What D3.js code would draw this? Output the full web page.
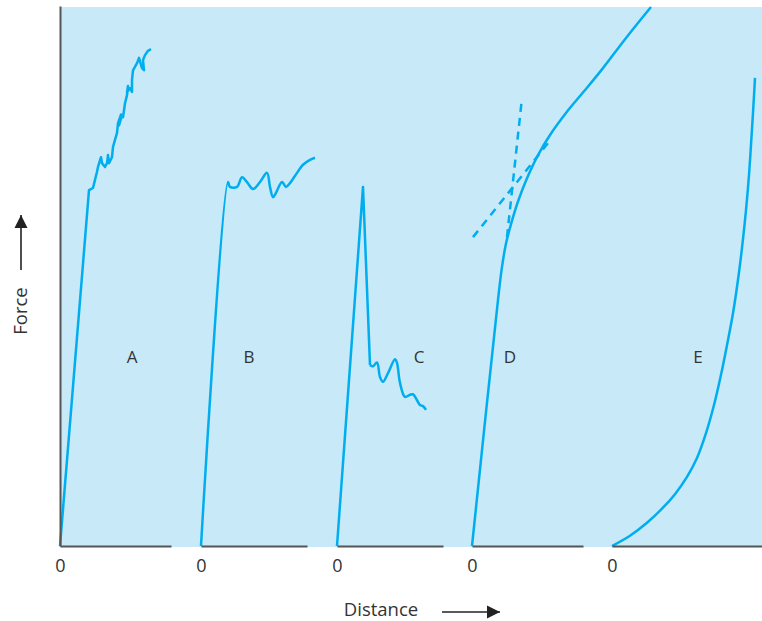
<!DOCTYPE html>
<html>
<head>
<meta charset="utf-8">
<script src="https://cdn.jsdelivr.net/npm/d3@7"></script>
<style>
  html, body { margin: 0; padding: 0; background: #ffffff; }
  svg { display: block; }
</style>
</head>
<body>
<svg id="chart" width="762" height="621"></svg>
<script>
// ---------- data (distance units, force units) ----------
const panelNames = ["A", "B", "C", "D", "E"];
const panelZero  = [0, 28.2, 55.4, 82.4, 110.4];     // distance origin of each panel
const panelEnd   = [22.2, 49.4, 76.6, 104.6, 140.4]; // end of each axis segment
const labelDist  = [14.4, 9.6, 16.4, 7.6, 17.2];     // label position within panel
const labelForce = 35;
const tickLabels = ["0", "0", "0", "0", "0"];

// A: rises linearly then serrated climb
const curveA = [
  [0, 0], [5.8, 65.9], [6.6, 66.3], [7.0, 67.8], [7.4, 69.3], [7.6, 70.2],
  [8.2, 72.0], [8.4, 70.9], [9.0, 70.2], [9.4, 70.9], [9.6, 72.4], [9.8, 70.9],
  [10.4, 72.0], [10.6, 73.9], [11.4, 76.5], [11.6, 78.3], [12.2, 79.9], [11.8, 77.9],
  [12.4, 79.8], [12.6, 79.4], [13.0, 82.0], [13.4, 83.5], [13.6, 85.2], [13.4, 84.0],
  [14.0, 84.8], [14.4, 84.1], [14.4, 86.3], [14.6, 88.1], [15.4, 89.4], [15.8, 90.4],
  [16.4, 88.5], [16.8, 88.1], [16.6, 90.0], [17.0, 90.9], [17.6, 91.7], [18.2, 92.0]
];
// B: yield plateau with waves
const curveB = [
  [0, 0], [5.4, 67.4], [5.8, 66.5], [7.2, 66.5], [8.2, 68.3], [9.2, 67.4],
  [10.4, 66.1], [11.8, 67.4], [13.2, 69.1], [13.8, 66.5], [14.4, 64.6], [15.0, 65.4],
  [16.2, 67.4], [17.0, 66.5], [17.8, 67.2], [19.2, 69.1], [20.4, 70.6], [21.8, 71.5],
  [22.8, 71.9]
];
// C: sharp peak then drop
const curveCSpike = [[0, 0], [5.2, 66.5], [6.6, 33.5]];
const curveCTail = [
  [6.6, 33.5], [7.2, 33.3], [8.0, 34.0], [8.6, 31.3], [9.2, 30.4], [10.2, 32.0],
  [11.6, 34.6], [12.0, 33.9], [12.6, 30.2], [13.6, 27.6], [14.6, 28.0], [15.2, 28.1],
  [16.0, 27.0], [16.6, 26.1], [17.2, 25.9], [17.8, 25.2]
];
// D: linear then smooth yield
const curveD = [
  [0, 0], [5.2, 45.6], [6.0, 51.7], [6.8, 56.0], [7.8, 59.6], [9.2, 63.8],
  [11.0, 68.1], [13.2, 72.4], [15.8, 76.4], [18.8, 80.2], [22.4, 84.2], [26.2, 88.5],
  [31.0, 94.3], [35.8, 99.8]
];
const tangentSteep   = [[7.0, 57.2], [10.0, 83.0]];
const tangentShallow = [[0.2, 57.2], [15.2, 74.6]];
// E: concave-up curve
const curveE = [
  [0, 0], [3.6, 1.9], [7.0, 4.3], [10.0, 6.9], [12.6, 9.6], [15.0, 12.8],
  [17.0, 16.3], [18.8, 20.9], [20.4, 26.1], [21.8, 31.7], [23.0, 37.2],
  [24.2, 43.1], [25.2, 49.3], [26.0, 55.2], [26.8, 62.2], [27.4, 68.7],
  [27.8, 74.3], [28.2, 80.2], [28.6, 86.7]
];

// ---------- drawing ----------
const blue = "#00adee";
const font = "'Open Sans', Lato, sans-serif";
const svg = d3.select("#chart");
const x = d3.scaleLinear().domain([0, 140.4]).range([60, 762]);
const y = d3.scaleLinear().domain([0, 100]).range([546, 6]);

svg.append("rect")
  .attr("x", x(0)).attr("y", y(100) + 1)
  .attr("width", x(140.4) - x(0)).attr("height", y(0) - y(100))
  .attr("fill", "#c7e9f8");

const lineFor = (off, curve) => d3.line()
  .x(d => x(d[0] + off)).y(d => y(d[1])).curve(curve);

const g = svg.append("g").attr("fill", "none").attr("stroke", blue)
  .attr("stroke-width", 2.5).attr("stroke-linejoin", "round").attr("stroke-linecap", "butt");

g.append("path").attr("d", lineFor(panelZero[0], d3.curveLinear)(curveA));
g.append("path").attr("d", lineFor(panelZero[1], d3.curveCatmullRom.alpha(0.5))(curveB));
g.append("path").attr("d", lineFor(panelZero[2], d3.curveLinear)(curveCSpike));
g.append("path").attr("d", lineFor(panelZero[2], d3.curveCatmullRom.alpha(0.5))(curveCTail));
g.append("path").attr("d", lineFor(panelZero[3], d3.curveCatmullRom.alpha(0.5))(curveD));
g.append("path").attr("d", lineFor(panelZero[3], d3.curveLinear)(tangentSteep))
  .attr("stroke-dasharray", "8,6");
g.append("path").attr("d", lineFor(panelZero[3], d3.curveLinear)(tangentShallow))
  .attr("stroke-dasharray", "8,6");
g.append("path").attr("d", lineFor(panelZero[4], d3.curveCatmullRom.alpha(0.5))(curveE));

// panel labels
svg.append("g").selectAll("text").data(panelNames).join("text")
  .attr("x", (d, i) => x(panelZero[i] + labelDist[i]))
  .attr("y", y(labelForce))
  .attr("dy", "0.35em")
  .attr("text-anchor", "middle")
  .attr("font-family", font)
  .attr("font-size", 17)
  .attr("fill", "#333")
  .text(d => d);

// left axis
const yAxis = svg.append("g").attr("transform", `translate(${x(0)},0)`)
  .call(d3.axisLeft(y).tickValues([]).tickSizeOuter(0));
yAxis.select(".domain").attr("stroke", "#555").attr("stroke-width", 2);

// bottom axis segments, one per panel
panelNames.forEach((p, i) => {
  const xs = d3.scaleLinear()
    .domain([0, panelEnd[i] - panelZero[i]])
    .range([x(panelZero[i]), x(panelEnd[i])]);
  const ax = svg.append("g").attr("transform", `translate(0,${y(0)})`)
    .call(d3.axisBottom(xs).tickValues([0]).tickSize(0).tickSizeOuter(0)
      .tickPadding(13).tickFormat(() => tickLabels[i]));
  ax.select(".domain").attr("stroke", "#555").attr("stroke-width", 2);
  ax.selectAll("text").attr("font-family", font)
    .attr("font-size", 18).attr("fill", "#333");
});

// axis titles with arrows
svg.append("defs").append("marker")
  .attr("id", "arr").attr("viewBox", "0 0 10 10")
  .attr("refX", 10).attr("refY", 5)
  .attr("markerWidth", 13).attr("markerHeight", 14)
  .attr("markerUnits", "userSpaceOnUse")
  .attr("orient", "auto")
  .append("path").attr("d", "M0,0 L10,5 L0,10 Z").attr("fill", "#222");

svg.append("text")
  .attr("x", 381).attr("y", 616)
  .attr("text-anchor", "middle")
  .attr("font-family", font)
  .attr("font-size", 18.5).attr("fill", "#333")
  .text("Distance");
svg.append("line")
  .attr("x1", 442).attr("y1", 612).attr("x2", 500).attr("y2", 612)
  .attr("stroke", "#222").attr("stroke-width", 1.6)
  .attr("marker-end", "url(#arr)");

svg.append("text")
  .attr("transform", "translate(27,311) rotate(-90)")
  .attr("text-anchor", "middle")
  .attr("font-family", font)
  .attr("font-size", 18.5).attr("fill", "#333")
  .text("Force");
svg.append("line")
  .attr("x1", 21).attr("y1", 270).attr("x2", 21).attr("y2", 215)
  .attr("stroke", "#222").attr("stroke-width", 1.6)
  .attr("marker-end", "url(#arr)");
</script>
</body>
</html>
